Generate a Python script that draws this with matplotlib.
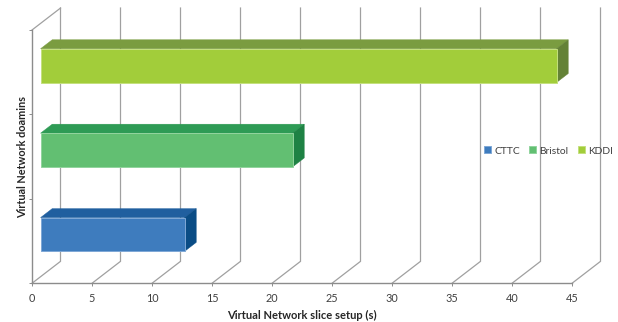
import matplotlib
matplotlib.use("Agg")
import matplotlib.pyplot as plt
from matplotlib.patches import Polygon

# Setup time per virtual network domain, seconds
domains = ["CTTC", "Bristol", "KDDI"]
setup_seconds = [12, 21, 43]
x_ticks = [0, 5, 10, 15, 20, 25, 30, 35, 40, 45]
y_limit = 3

front_colors = ["#3e7cbe", "#62bf72", "#a2cd3a"]
top_colors = ["#205f9f", "#2e9b55", "#7a9c40"]
side_colors = ["#0a4c85", "#1e8244", "#648236"]
edge_colors = ["#7fa8d6", "#92d49e", "#c4e07e"]

# Oblique projection: one full unit of depth shifts a point by this many data units
DEPTH_X = 2.375
DEPTH_Y = 0.26
BAR_DEPTH_START = 0.30
BAR_DEPTH_END = 0.71
BAR_HEIGHT = 0.40
GRID = "#a0a0a0"

plt.rcParams["font.family"] = ["Lato", "DejaVu Sans"]

W, H = 618, 322
fig = plt.figure(figsize=(W / 100, H / 100), dpi=100, facecolor="white")
ax = fig.add_axes([32 / W, (H - 283.3) / H, 540 / W, 253.3 / H])
ax.set_xlim(0, 45)
ax.set_ylim(0, y_limit)


def project(value, level, depth):
    return value + depth * DEPTH_X, level + depth * DEPTH_Y


# Back wall and floor lines at each value tick
for tick in x_ticks:
    fx, fy = project(tick, 0, 0)
    bx, by = project(tick, 0, 1)
    tx, ty = project(tick, y_limit, 1)
    ax.plot([fx, bx, tx], [fy, by, ty], color=GRID, lw=0.9, clip_on=False,
            solid_joinstyle="miter", zorder=1)

# Diagonal at the top of the side wall
sx, sy = project(0, y_limit, 0)
ex, ey = project(0, y_limit, 1)
ax.plot([sx, ex], [sy, ey], color=GRID, lw=0.9, clip_on=False, zorder=1)

# 3D bars: top, side, then front face
handles = []
for i, (name, value) in enumerate(zip(domains, setup_seconds)):
    low = i + 0.5 - BAR_HEIGHT / 2
    high = i + 0.5 + BAR_HEIGHT / 2
    a, b = BAR_DEPTH_START, BAR_DEPTH_END
    top = [project(0, high, a), project(value, high, a),
           project(value, high, b), project(0, high, b)]
    side = [project(value, low, a), project(value, low, b),
            project(value, high, b), project(value, high, a)]
    front = [project(0, low, a), project(value, low, a),
             project(value, high, a), project(0, high, a)]
    ax.add_patch(Polygon(top, closed=True, fc=top_colors[i], ec=top_colors[i],
                         lw=0.3, zorder=3, clip_on=False))
    ax.add_patch(Polygon(side, closed=True, fc=side_colors[i], ec=side_colors[i],
                         lw=0.3, zorder=3, clip_on=False))
    handles.append(ax.add_patch(Polygon(front, closed=True, fc=front_colors[i],
                                        ec=edge_colors[i], lw=0.7, zorder=4,
                                        clip_on=False, label=name)))

for side_name in ("top", "right"):
    ax.spines[side_name].set_visible(False)
for side_name in ("left", "bottom"):
    ax.spines[side_name].set_color("#8c8c8c")
    ax.spines[side_name].set_linewidth(1.0)

ax.set_xticks(x_ticks)
ax.set_yticks(range(y_limit + 1))
ax.set_yticklabels([])
ax.tick_params(axis="x", length=2, width=0.7, color="#8c8c8c", pad=5,
               labelsize=7.8, labelcolor="#404040")
ax.tick_params(axis="y", length=2, width=0.7, color="#8c8c8c")

ax.set_xlabel("Virtual Network slice setup (s)", fontsize=8.0, fontweight="bold",
              color="#262626", labelpad=4)
ax.set_ylabel("Virtual Network doamins", fontsize=7.8, fontweight="bold",
              color="#262626", labelpad=-2.5)

fig.legend(handles=handles, loc="center", ncol=3, frameon=False, fontsize=7.4,
           labelcolor="#404040", bbox_to_anchor=(548.5 / W, (H - 151) / H),
           handlelength=0.68, handleheight=0.68, handletextpad=0.3,
           columnspacing=0.9, borderpad=0, borderaxespad=0)

fig.savefig("out.png", dpi=100, facecolor="white")
